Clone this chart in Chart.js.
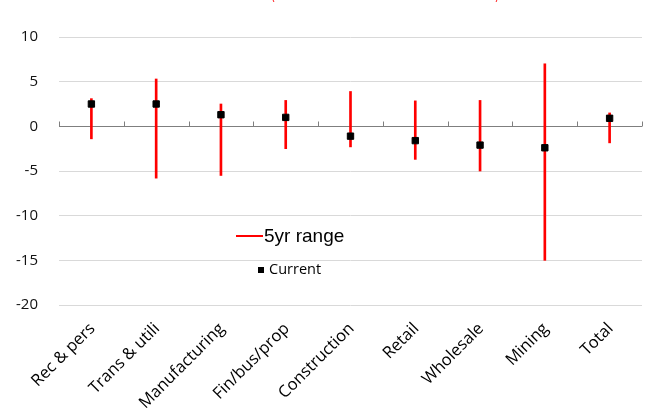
<!DOCTYPE html>
<html>
<head>
<meta charset="utf-8">
<script src="https://cdn.jsdelivr.net/npm/chart.js@4.4.1/dist/chart.umd.min.js"></script>
<style>
  html, body { margin: 0; padding: 0; background: #fff; }
  #wrap { width: 650px; height: 417px; }
</style>
</head>
<body>
<div id="wrap"><canvas id="chart" width="650" height="417"></canvas></div>
<script>
// categories + values
const categories = ["Rec & pers", "Trans & utili", "Manufacturing", "Fin/bus/prop", "Construction", "Retail", "Wholesale", "Mining", "Total"];
const rangeLow  = [-1.4, -5.8, -5.5, -2.5, -2.3, -3.7, -5.0, -15.0, -1.85];
const rangeHigh = [ 3.1,  5.3,  2.5,  2.9,  3.9,  2.85, 2.9,   7.0,  1.5];
const current   = [ 2.5,  2.5,  1.3,  1.0, -1.1, -1.6, -2.1,  -2.4,  0.9];
const yTicks    = [10, 5, 0, -5, -10, -15, -20];

// red title sits above the visible area, only the bracket tails peek in
const titlePlugin = {
  id: "cutTitle",
  afterDraw(chart) {
    const ctx = chart.ctx;
    ctx.save();
    ctx.fillStyle = "#ff0000";
    ctx.font = "16px 'Liberation Sans', Arial, sans-serif";
    ctx.textAlign = "center";
    ctx.textBaseline = "alphabetic";
    ctx.fillText("(Current vs the 5 Year Band in Annual Growth %)", 385, -1, 228);
    ctx.restore();
  }
};

// axis line at zero with small up ticks at category boundaries
const zeroAxis = {
  id: "zeroAxis",
  beforeDatasetsDraw(chart) {
    const { ctx, scales: { x, y } } = chart;
    const y0 = Math.round(y.getPixelForValue(0)) + 0.5;
    const half = (x.getPixelForValue(1) - x.getPixelForValue(0)) / 2;
    ctx.save();
    ctx.strokeStyle = "#7f7f7f";
    ctx.lineWidth = 1;
    ctx.beginPath();
    ctx.moveTo(x.left, y0);
    ctx.lineTo(x.right, y0);
    for (let i = 0; i <= categories.length; i++) {
      const px = Math.round(x.getPixelForValue(i) - half) + 0.5;
      ctx.moveTo(px, y0);
      ctx.lineTo(px, y0 - 5);
    }
    ctx.stroke();
    ctx.restore();
  }
};

// legend drawn inside the plot
const innerLegend = {
  id: "innerLegend",
  afterDraw(chart) {
    const ctx = chart.ctx;
    ctx.save();
    ctx.strokeStyle = "#ff0000";
    ctx.lineWidth = 2;
    ctx.beginPath();
    ctx.moveTo(236, 236);
    ctx.lineTo(263, 236);
    ctx.stroke();
    ctx.fillStyle = "#000";
    ctx.textBaseline = "middle";
    ctx.font = "19px 'Liberation Sans', Arial, sans-serif";
    ctx.fillText("5yr range", 264, 237);
    ctx.fillRect(258, 267, 6, 6);
    ctx.font = "14.5px 'Open Sans', sans-serif";
    ctx.fillText("Current", 269, 270);
    ctx.restore();
  }
};

new Chart(document.getElementById("chart"), {
  type: "bar",
  data: {
    labels: categories,
    datasets: [
      {
        label: "5yr range",
        data: rangeLow.map((lo, i) => [lo, rangeHigh[i]]),
        backgroundColor: "#ff0000",
        borderWidth: 0,
        barThickness: 2,
        order: 2
      },
      {
        type: "line",
        label: "Current",
        data: current,
        showLine: false,
        pointStyle: "rect",
        pointRadius: 4.5,
        pointBorderWidth: 1,
        pointBackgroundColor: "#000",
        pointBorderColor: "#000",
        order: 1
      }
    ]
  },
  options: {
    responsive: false,
    animation: false,
    layout: { padding: { top: 37, right: 8, left: 0, bottom: 0 } },
    plugins: {
      legend: { display: false },
      tooltip: { enabled: false }
    },
    scales: {
      x: {
        grid: { display: false, drawTicks: false },
        border: { display: false },
        ticks: {
          maxRotation: 45,
          minRotation: 45,
          autoSkip: false,
          padding: 14,
          labelOffset: 1,
          color: "#000",
          font: { family: "'Open Sans', sans-serif", size: 16.5 }
        },
        afterFit(scale) { scale.height = 112; }
      },
      y: {
        min: -20,
        max: 10,
        afterBuildTicks(scale) { scale.ticks = yTicks.map(v => ({ value: v })); },
        grid: {
          color: ctx => ctx.tick && ctx.tick.value === 0 ? "rgba(0,0,0,0)" : "#d9d9d9",
          drawTicks: false
        },
        border: { display: false },
        ticks: {
          padding: 21,
          color: "#111",
          font: { family: "'Open Sans', sans-serif", size: 15 }
        },
        afterFit(scale) { scale.width = 59; }
      }
    }
  },
  plugins: [titlePlugin, zeroAxis, innerLegend]
});
</script>
</body>
</html>
